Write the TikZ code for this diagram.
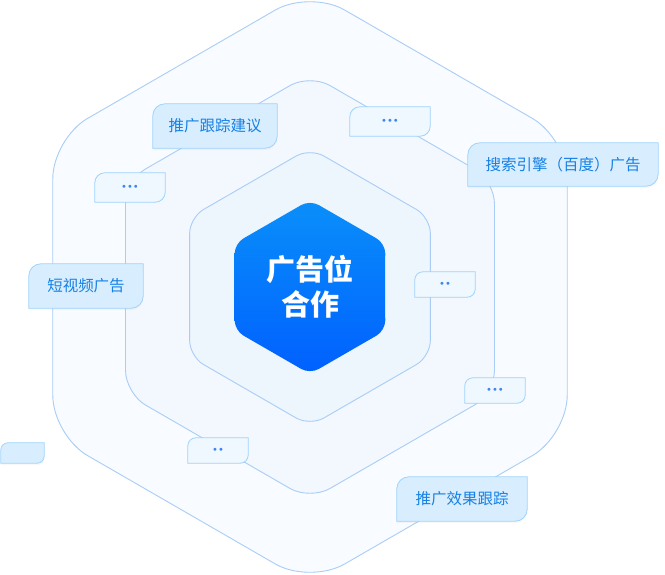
\documentclass[tikz,border=0pt]{standalone}
\usepackage{fontspec}
\setmainfont{Noto Sans CJK SC}
\newfontfamily\dotfont{DejaVu Sans}
\usetikzlibrary{shadows}
\definecolor{ringline}{HTML}{A9CDF6}
\definecolor{ringA}{HTML}{F8FBFF}
\definecolor{ringB}{HTML}{F3F8FE}
\definecolor{ringC}{HTML}{EDF5FD}
\definecolor{hubtop}{HTML}{0A8FFA}
\definecolor{hubbot}{HTML}{0060FF}
\definecolor{tagfill}{HTML}{D8EEFF}
\definecolor{dotfill}{HTML}{EFF7FF}
\definecolor{tagedge}{HTML}{9FD3FB}
\definecolor{tagtext}{HTML}{1680E4}
\definecolor{dotblue}{HTML}{3F86EE}
\pgfdeclarelayer{rings}
\pgfdeclarelayer{boxes}
\pgfsetlayers{rings,boxes,main}
\tikzset{
  ring/.style={draw=ringline, line width=0.9pt},
  tagbox/.style={text=tagtext, font=\fontsize{15.5}{15.5}\selectfont, inner sep=0pt},
  dotbox/.style={text=dotblue, font=\dotfont\fontsize{10}{10}\selectfont, inner sep=0pt},
  tagline/.style={draw=tagedge, fill=tagfill, line width=0.8pt,
    drop shadow={opacity=0.06, shadow xshift=0pt, shadow yshift=-2pt}},
  dotline/.style={draw=tagedge, fill=dotfill, line width=0.8pt}
}
\begin{document}
\begin{tikzpicture}[x=1pt,y=1pt]
	\useasboundingbox (0,0) rectangle (665,-574);
	\coordinate (c) at (310,-287);
	% three rings
	\begin{pgfonlayer}{rings}
		\foreach \R/\rc/\col in {297/40/ringA, 213/23/ringB, 139/16/ringC}{
			\draw[ring, fill=\col, rounded corners=\rc pt, shift={(c)}]
				(0:0.866*\R) -- (30:\R) -- (90:\R) -- (150:\R) -- (210:\R) -- (270:\R) -- (330:\R) -- cycle;
		}
		\shade[top color=hubtop, bottom color=hubbot, rounded corners=10pt, shift={(c)}]
			(0:75) -- (30:87) -- (90:87) -- (150:87) -- (210:87) -- (270:87) -- (330:87) -- cycle;
	\end{pgfonlayer}
	\node (hub) at (c) [text=white, align=center, font=\fontsize{29}{35}\selectfont\bfseries]{广告位\\合作};
	% labels
	\node (jianyi) at (215,-126) [tagbox, minimum width=124pt, minimum height=44pt]{推广跟踪建议};
	\node (sousuo) at (563,-164.5) [tagbox, minimum width=190pt, minimum height=43pt]{搜索引擎（百度）广告};
	\node (shipin) at (86,-286) [tagbox, minimum width=114pt, minimum height=44pt]{短视频广告};
	\node (xiaoguo) at (462,-499) [tagbox, minimum width=130pt, minimum height=44pt]{推广效果跟踪};
	\node (dotA) at (390,-121.5) [dotbox, minimum width=80pt, minimum height=29pt]{•••};
	\node (dotB) at (130,-187.5) [dotbox, minimum width=70pt, minimum height=29pt]{•••};
	\node (dotC) at (445,-284.5) [dotbox, minimum width=60pt, minimum height=25pt]{••};
	\node (dotD) at (495,-390.5) [dotbox, minimum width=60pt, minimum height=25pt]{•••};
	\node (dotE) at (218,-450.5) [dotbox, minimum width=60pt, minimum height=25pt]{••};
	\node (blank) at (22.5,-453) [dotbox, minimum width=43pt, minimum height=20pt]{};
	\begin{pgfonlayer}{boxes}
		\foreach \n/\r/\s in {jianyi/12/tagline, sousuo/12/tagline, shipin/12/tagline, xiaoguo/12/tagline,
			dotA/10/dotline, dotB/10/dotline, dotC/8/dotline, dotD/8/dotline, dotE/8/dotline, blank/7/tagline}{
			\draw[\s] (\n.south west) -- ([yshift=-\r pt]\n.north west) arc[start angle=180, end angle=90, radius=\r pt]
				-- (\n.north east) -- ([yshift=\r pt]\n.south east) arc[start angle=0, end angle=-90, radius=\r pt] -- cycle;
		}
	\end{pgfonlayer}
\end{tikzpicture}
\end{document}
